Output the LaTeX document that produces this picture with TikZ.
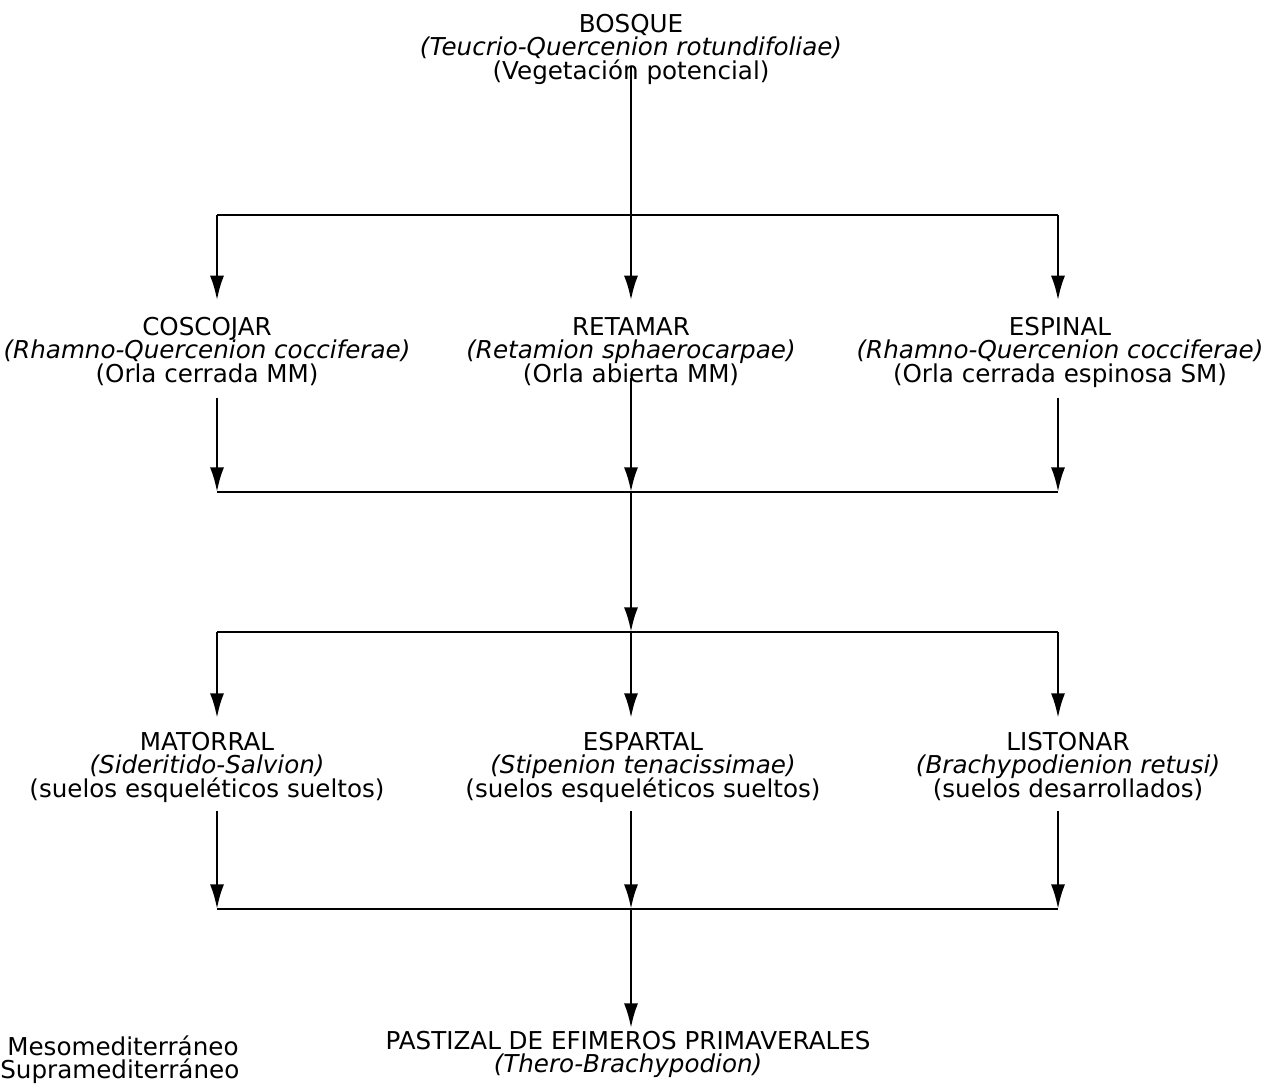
\documentclass[tikz,border=0pt]{standalone}
\usepackage{fontspec}
\setmainfont{DejaVu Sans}
\usetikzlibrary{arrows.meta}
\newcommand\treefont{\fontsize{14}{13.3}\selectfont\lineskiplimit-100pt\relax}

\begin{document}
\begin{tikzpicture}[x=0.02cm,y=-0.02cm,
    txt/.style={align=center,anchor=north,inner sep=0pt,font=\treefont},
    bar/.style={line width=1.5pt},
    barthin/.style={line width=0.8pt},
    arr/.style={line width=1.5pt,-{Latex[length=14pt,width=8pt]}}]
    \useasboundingbox (0,0) rectangle (1267,1083);

    % columns of the tree
    \pgfmathsetmacro{\xl}{217}
    \pgfmathsetmacro{\xc}{631}
    \pgfmathsetmacro{\xr}{1058}

    \node[txt] (bosque) at (631,14) {\strut BOSQUE\\\textit{(Teucrio-Quercenion rotundifoliae)}\\(Vegetación potencial)\strut};

    \node[txt] (coscojar) at (207,317) {\strut COSCOJAR\\\textit{(Rhamno-Quercenion cocciferae)}\\(Orla cerrada MM)\strut};
    \node[txt] (retamar) at (631,317) {\strut RETAMAR\\\textit{(Retamion sphaerocarpae)}\\(Orla abierta MM)\strut};
    \node[txt] (espinal) at (1060,317) {\strut ESPINAL\\\textit{(Rhamno-Quercenion cocciferae)}\\(Orla cerrada espinosa SM)\strut};

    \node[txt] (matorral) at (207,732) {\strut MATORRAL\\\textit{(Sideritido-Salvion)}\\(suelos esqueléticos sueltos)\strut};
    \node[txt] (espartal) at (643,732) {\strut ESPARTAL\\\textit{(Stipenion tenacissimae)}\\(suelos esqueléticos sueltos)\strut};
    \node[txt] (listonar) at (1068,732) {\strut LISTONAR\\\textit{(Brachypodienion retusi)}\\(suelos desarrollados)\strut};

    \node[txt] (pastizal) at (628,1031) {\strut PASTIZAL DE EFIMEROS PRIMAVERALES\\\textit{(Thero-Brachypodion)}};

    \node[txt,align=left,anchor=north west] (piso) at (0,1035) {\strut\hspace*{10\pgflinewidth}Mesomediterráneo\\Supramediterráneo};

    % junctions
    \coordinate (top) at (\xc,66);
    \coordinate (mid) at (\xc,378);
    \coordinate (a1) at (\xl,215);
    \coordinate (a2) at (\xc,215);
    \coordinate (a3) at (\xr,215);
    \coordinate (b1) at (\xl,492);
    \coordinate (b2) at (\xc,492);
    \coordinate (b3) at (\xr,492);
    \coordinate (c1) at (\xl,632);
    \coordinate (c2) at (\xc,632);
    \coordinate (c3) at (\xr,632);
    \coordinate (d1) at (\xl,909);
    \coordinate (d2) at (\xc,909);
    \coordinate (d3) at (\xr,909);

    \draw[bar] (a1) -- (a2);
    \draw[barthin] (a2) -- (a3);
    \draw[bar] (b1) -- (b2);
    \draw[barthin] (b2) -- (b3);
    \draw[bar] (c1) -- (c2);
    \draw[barthin] (c2) -- (c3);
    \draw[bar] (d1) -- (d2);
    \draw[barthin] (d2) -- (d3);

    \draw[arr,shorten >=9.5] (top) -- (top |- retamar.north);
    \draw[arr,shorten >=9.5] (a1) -- (a1 |- coscojar.north);
    \draw[arr,shorten >=9.5] (a3) -- (a3 |- espinal.north);

    \draw[arr,shorten <=4.5] (b1 |- coscojar.south) -- (b1);
    \draw[arr] (mid) -- (b2);
    \draw[arr,shorten <=4.5] (b3 |- espinal.south) -- (b3);

    \draw[arr] (b2) -- (c2);

    \draw[arr,shorten >=8] (c1) -- (c1 |- matorral.north);
    \draw[arr,shorten >=8] (c2) -- (c2 |- espartal.north);
    \draw[arr,shorten >=8] (c3) -- (c3 |- listonar.north);

    \draw[arr,shorten <=3.5] (d1 |- matorral.south) -- (d1);
    \draw[arr,shorten <=3.5] (d2 |- espartal.south) -- (d2);
    \draw[arr,shorten <=3.5] (d3 |- listonar.south) -- (d3);

    \draw[arr,shorten >=1.7] (d2) -- (d2 |- pastizal.north);
\end{tikzpicture}
\end{document}
